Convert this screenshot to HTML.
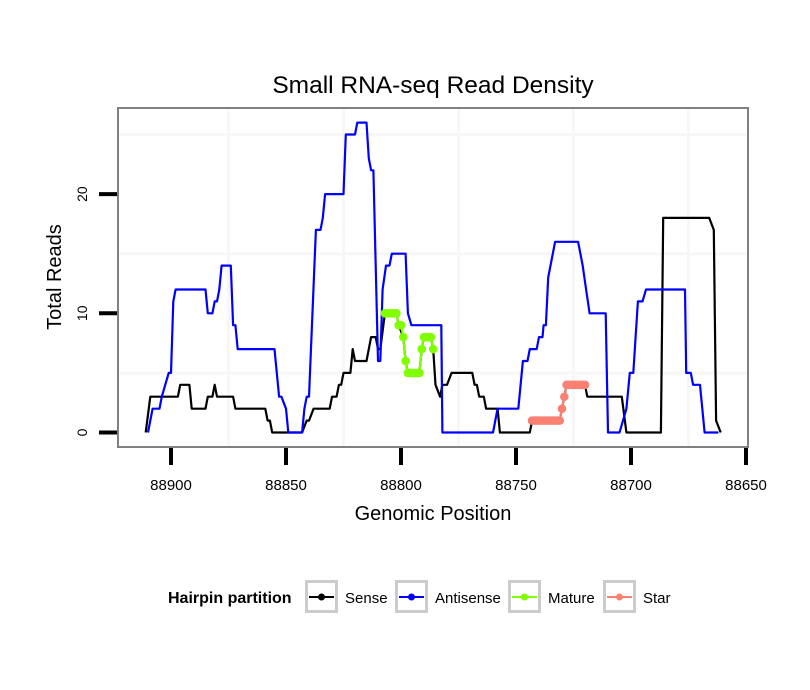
<!DOCTYPE html>
<html><head><meta charset="utf-8"><style>
html,body{margin:0;padding:0;background:#fff;}
svg{display:block;font-family:"Liberation Sans",sans-serif;}
</style></head><body>
<svg id="chart" width="810" height="690" viewBox="0 0 810 690">
<rect width="810" height="690" fill="#fff"/>
<text x="433" y="93" text-anchor="middle" font-size="24.5">Small RNA-seq Read Density</text>
<g id="grid"></g>
<g id="series"></g>
<rect x="118" y="108" width="630" height="339" fill="none" stroke="#808080" stroke-width="2"/>
<g id="axes"></g>
<text transform="translate(61,277) rotate(-90)" text-anchor="middle" font-size="20">Total Reads</text>
<text x="433" y="520" text-anchor="middle" font-size="20">Genomic Position</text>
<g>
<text x="168" y="603" font-size="16" font-weight="bold">Hairpin partition</text>
<g id="legend-items"></g>
</g>
</svg>
<script>
const xTicks=[88900,88850,88800,88750,88700,88650];
const xGrid=[88875,88825,88775,88725,88675];
const yTicks=[0,10,20];
const yGrid=[5,15,25];
const sensePos=[88911,88909,88897,88896,88892,88891,88885,88884,88882,88881,88880,88873,88872,88859,88858,88857,88856,88843,88841,88840,88838,88831,88830,88828,88827,88826,88825,88822,88821,88820,88815,88813,88811,88810,88809,88807,88802,88801,88799,88798,88797,88792,88791,88790,88787,88786,88785,88783,88782,88780,88778,88769,88768,88767,88766,88764,88763,88758,88757,88744,88743,88731,88730,88729,88728,88720,88719,88704,88702,88687,88686,88666,88664,88663,88661];
const senseVal=[0,3,3,4,4,2,2,3,3,4,3,3,2,2,1,1,0,0,1,1,2,2,3,3,4,4,5,5,7,6,6,8,8,7,7,10,10,9,8,6,5,5,7,8,8,7,4,3,4,4,5,5,4,4,3,3,2,2,0,0,1,1,2,3,4,4,3,3,0,0,18,18,17,1,0];
const antiPos=[88910,88908,88905,88904,88901,88900,88899,88898,88885,88884,88882,88881,88880,88879,88878,88874,88873,88872,88871,88855,88853,88852,88850,88849,88843,88842,88841,88840,88837,88835,88834,88833,88825,88824,88820,88819,88815,88814,88813,88812,88810,88809,88808,88806.5,88805,88804,88798,88797,88795.5,88782.5,88782,88760,88758,88749,88747,88745,88744,88741,88740,88738.5,88738,88737,88736,88733,88723,88721,88719.5,88718,88711,88710,88705,88703.5,88702,88700.5,88699,88698,88697,88695,88693.5,88676.5,88676,88674,88673,88670,88668,88662];
const antiVal=[0,2,2,3,5,5,11,12,12,10,10,11,11,12,14,14,9,9,7,7,3,3,2,0,0,2,3,3,17,17,18,20,20,25,25,26,26,23,22,22,6,6,12,14,14,15,15,10,9,9,0,0,2,2,6,6,7,7,8,8,9,9,13,16,16,14,12,10,10,0,0,1,2,5,5,8,11,11,12,12,5,5,4,4,0,0];
const maturePos=[88807,88806,88805,88804,88803,88802,88801,88800,88799,88798,88797,88796,88795,88794,88793,88792,88791,88790,88789,88788,88787,88786];
const matureVal=[10,10,10,10,10,10,9,9,8,6,5,5,5,5,5,5,7,8,8,8,8,7];
const starPos=[88743,88742,88741,88740,88739,88738,88737,88736,88735,88734,88733,88732,88731,88730,88729,88728,88727,88726,88725,88724,88723,88722,88721,88720];
const starVal=[1,1,1,1,1,1,1,1,1,1,1,1,1,2,3,4,4,4,4,4,4,4,4,4];
const legendLabels=["Sense","Antisense","Mature","Star"];
const legendColors=["#000000","#0000ff","#7fff00","#fa8072"];

const NS="http://www.w3.org/2000/svg";
function xs(p){return 171+(88900-p)*2.3;}
function ys(v){return 432.5-v*11.92;}
function mk(tag,attrs,parent){const e=document.createElementNS(NS,tag);for(const k in attrs)e.setAttribute(k,attrs[k]);parent.appendChild(e);return e;}
const grid=document.getElementById('grid'),axes=document.getElementById('axes'),series=document.getElementById('series');
xGrid.forEach(g=>{const l=mk('line',{x1:xs(g),x2:xs(g),y1:109,y2:446,stroke:'#f7f7f7','stroke-width':3},grid);

});
yGrid.forEach(g=>{const l=mk('line',{x1:119,x2:747,y1:ys(g),y2:ys(g),stroke:'#f7f7f7','stroke-width':3},grid);

});
xTicks.forEach(t=>{const l=mk('line',{x1:xs(t),x2:xs(t),y1:448,y2:465,stroke:'#000','stroke-width':4},axes);


const tx=mk('text',{x:xs(t),y:490,'text-anchor':'middle','font-size':15},axes);tx.textContent=t;

});
yTicks.forEach(t=>{const l=mk('line',{x1:99,x2:117,y1:ys(t),y2:ys(t),stroke:'#000','stroke-width':4},axes);


const tx=mk('text',{transform:`translate(87,${ys(t)}) rotate(-90)`,'text-anchor':'middle','font-size':14},axes);tx.textContent=t;

});
function line(pos,val,color,name){const d=pos.map((p,i)=>(i?'L':'M')+xs(p).toFixed(1)+','+ys(val[i]).toFixed(1)).join('');
const e=mk('path',{d:d,fill:'none',stroke:color,'stroke-width':2.2,'stroke-linejoin':'round'},series);

}
function dots(pos,val,color,name){pos.forEach((p,i)=>{const c=mk('circle',{cx:xs(p),cy:ys(val[i]),r:4.3,fill:color},series);

});}
line(sensePos,senseVal,'#000','sense-line');
line(antiPos,antiVal,'#0000ff','antisense-line');
line(maturePos,matureVal,'#7fff00','mature-line');
dots(maturePos,matureVal,'#7fff00','mature-point');
line(starPos,starVal,'#fa8072','star-line');
dots(starPos,starVal,'#fa8072','star-point');
const li=document.getElementById('legend-items');
const boxX=[305,395,508,603];
legendLabels.forEach((lab,i)=>{const x=boxX[i];
const b=mk('rect',{x:x+1.5,y:581.5,width:30,height:30,fill:'#fff',stroke:'#cccccc','stroke-width':3},li);


mk('line',{x1:x+4,x2:x+29,y1:597,y2:597,stroke:legendColors[i],'stroke-width':2},li);
mk('circle',{cx:x+16.5,cy:597,r:3.5,fill:legendColors[i]},li);
const t=mk('text',{x:x+40,y:603,'font-size':15},li);t.textContent=lab;

});
</script>
</body></html>
